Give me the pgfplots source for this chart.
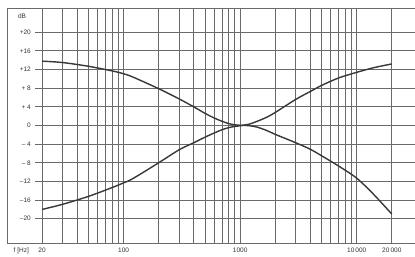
\documentclass[border=0pt]{standalone}
\usepackage{fontspec}
\setmainfont{Liberation Sans}
\usepackage{pgfplots}
\pgfplotsset{compat=1.18}
\definecolor{gridc}{HTML}{6A6A6A}
\definecolor{curvec}{HTML}{383838}
\definecolor{textc}{HTML}{333333}
\begin{document}
\begin{tikzpicture}[x=1pt,y=1pt]
\useasboundingbox (-7,-14) rectangle (408,243);
\begin{axis}[
  scale only axis, width=408pt, height=235pt,
  at={(0,0)}, anchor=south west,
  xmode=log, xmin=10, xmax=31623, ymin=-25.2, ymax=25.2,
  axis line style={draw=none},
  major tick length=0pt, minor tick length=0pt,
  xtick={20,100,1000,10000,20000},
  xticklabels={20,100,1000,10\,000,20\,000},
  ytick={-20,-16,-12,-8,-4,0,4,8,12,16,20},
  yticklabels={–20,–16,–12,– 8,– 4,0,+ 4,+ 8,+12,+16,+20},
  xticklabel style={font=\fontsize{6.5}{7}\selectfont, text=textc, inner sep=0pt, anchor=north, yshift=-5pt},
  yticklabel style={font=\fontsize{6.5}{7}\selectfont, text=textc, inner sep=0pt, anchor=east, xshift=24pt},
  clip=false,
]
% vertical grid
\pgfplotsinvokeforeach{20,30,40,50,60,70,80,90,100,200,300,400,500,600,700,800,900,1000,2000,3000,4000,5000,6000,7000,8000,9000,10000,20000}{
  \draw[gridc, line width=0.9pt] (axis cs:#1,-25.2) -- (axis cs:#1,25.2);
}
% horizontal grid
\pgfplotsinvokeforeach{-20,-16,-12,-8,-4,0,4,8,12,16,20}{
  \draw[gridc, line width=0.9pt] (axis cs:17.4,#1) -- (axis cs:31623,#1);
}
% frame (left, top, bottom)
\draw[gridc, line width=0.9pt] (rel axis cs:1,1) -- (rel axis cs:0,1) -- (rel axis cs:0,0) -- (rel axis cs:1,0);

\addplot[curvec, line width=1.4pt, smooth] coordinates {
(20,13.8) (30,13.5) (50,12.7) (80,11.7) (100,11.1) (120,10.4) (200,7.9) (300,5.7) (400,4.0) (500,2.6) (600,1.6) (700,0.9) (800,0.4) (900,0.15) (1000,0.05) (1200,-0.05) (1400,-0.35) (1700,-1.1) (2000,-1.9) (3000,-3.7) (4000,-5.1) (5000,-6.5) (7000,-8.7) (10000,-11.3) (14000,-14.8) (20000,-19)
};
\addplot[curvec, line width=1.4pt, smooth] coordinates {
(20,-18) (30,-16.9) (50,-15.2) (80,-13.3) (100,-12.3) (120,-11.4) (200,-8) (300,-5.2) (400,-3.7) (500,-2.5) (600,-1.6) (700,-0.9) (800,-0.45) (900,-0.2) (1000,-0.05) (1200,0.3) (1400,0.9) (1700,1.8) (2000,2.8) (3000,5.6) (4000,7.3) (5000,8.6) (7000,10.2) (10000,11.4) (14000,12.4) (20000,13.2)
};

\node[font=\fontsize{6.5}{7}\selectfont, text=textc] at (rel axis cs:0.037,0.966) {dB};
\node[font=\fontsize{6.5}{7}\selectfont, text=textc, anchor=north, inner sep=0pt] at ([yshift=-5pt]rel axis cs:0.035,0) {f [Hz]};
\end{axis}
\end{tikzpicture}
\end{document}
